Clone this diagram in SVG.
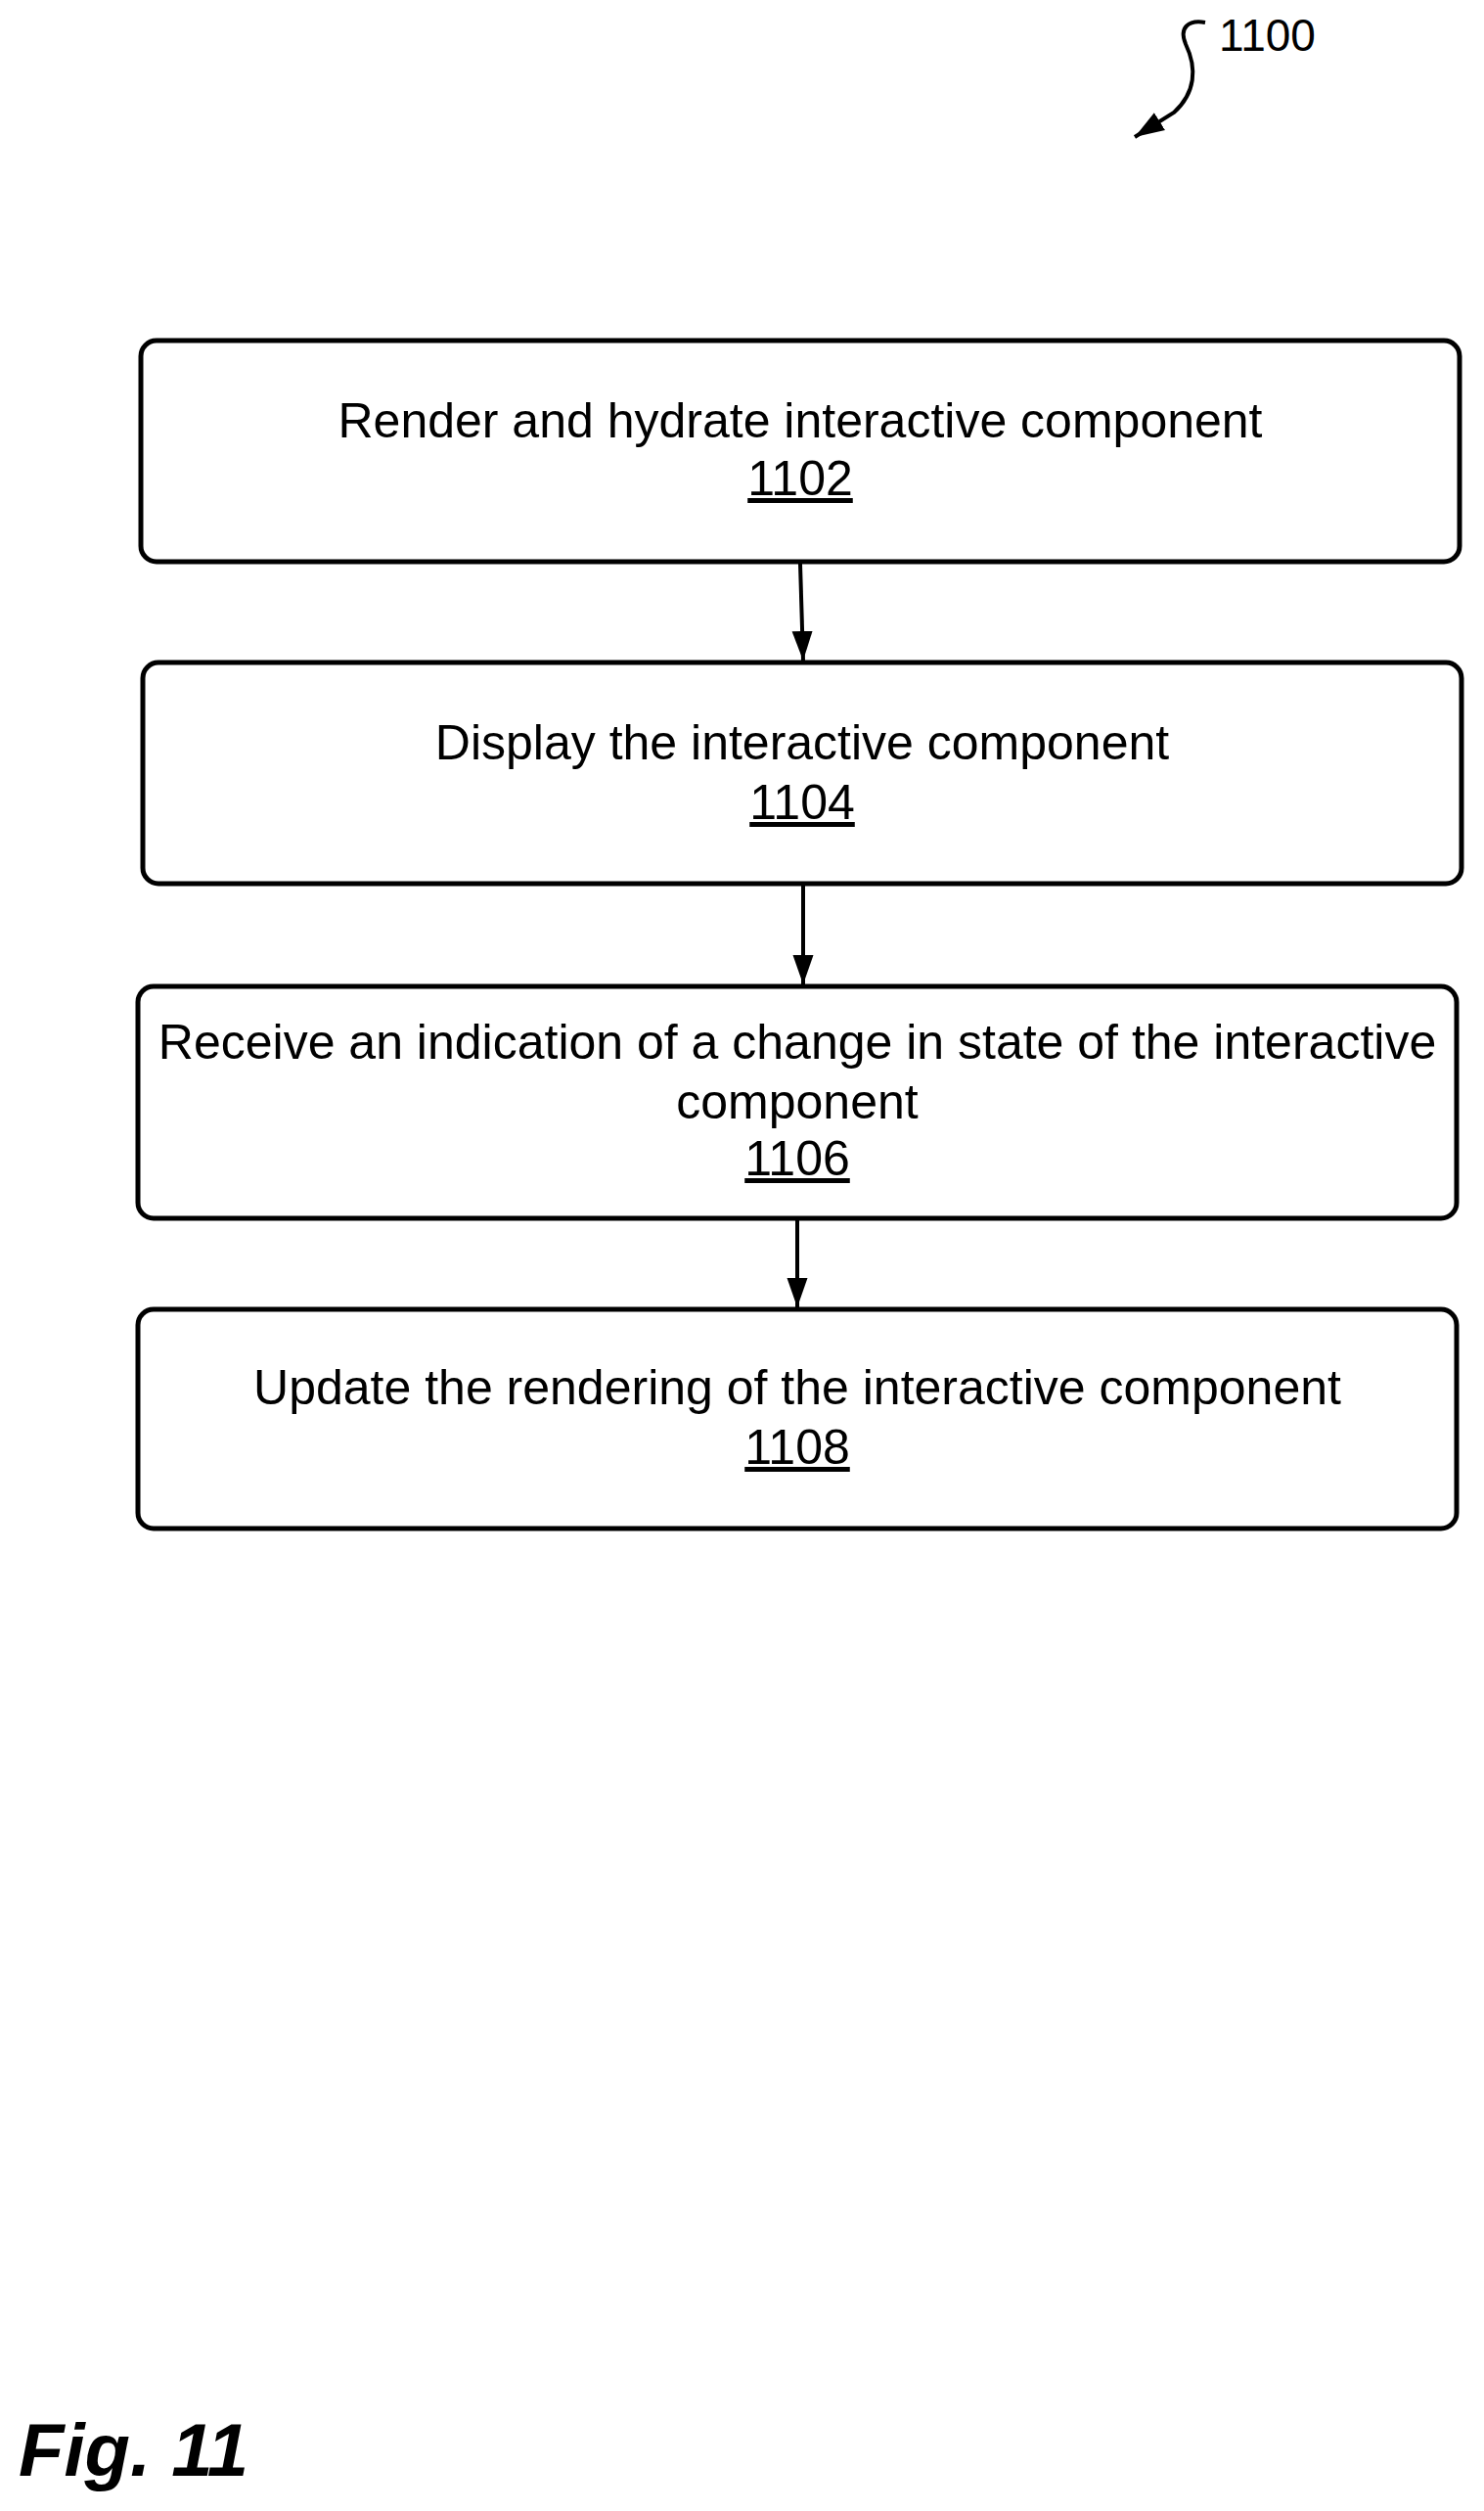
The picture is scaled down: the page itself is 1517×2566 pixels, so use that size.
<svg xmlns="http://www.w3.org/2000/svg" width="1517" height="2566" viewBox="0 0 1517 2566">
<style>
.box{fill:#fff;stroke:#000;stroke-width:5}
.t{font-family:"Liberation Sans",Arial,sans-serif;font-size:50px;text-anchor:middle;fill:#000}
.u{text-decoration:underline}
.c{stroke:#000;stroke-width:4;fill:none}
</style>
<defs>
<marker id="a" viewBox="0 0 10 10" refX="10" refY="5" markerWidth="30" markerHeight="30" markerUnits="userSpaceOnUse" orient="auto"><path d="M0,1.5 L10,5 L0,8.5 z" fill="#000"/></marker>
</defs>
<rect width="1517" height="2566" fill="#fff"/>
<g id="ref1100">
<path class="c" d="M1232,23 C1215,20 1205,28 1212,45 C1224,70 1222,95 1200,115 L1160,140" marker-end="url(#a)"/>
<text x="1246" y="52" style="font-family:'Liberation Sans',Arial,sans-serif;font-size:46px">1100</text>
</g>
<g id="connectors">
<line class="c" x1="818" y1="576" x2="821" y2="675" marker-end="url(#a)"/>
<line class="c" x1="821" y1="905" x2="821" y2="1006" marker-end="url(#a)"/>
<line class="c" x1="815" y1="1247" x2="815" y2="1336" marker-end="url(#a)"/>
</g>
<g id="n1102">
<rect class="box" x="144" y="348" width="1348" height="226" rx="16"/>
<text class="t" x="818" y="447">Render and hydrate interactive component</text>
<text class="t u" x="818" y="506">1102</text>
</g>
<g id="n1104">
<rect class="box" x="146" y="677" width="1348" height="226" rx="16"/>
<text class="t" x="820" y="776">Display the interactive component</text>
<text class="t u" x="820" y="837">1104</text>
</g>
<g id="n1106">
<rect class="box" x="141" y="1008" width="1348" height="237" rx="16"/>
<text class="t" x="815" y="1082">Receive an indication of a change in state of the interactive</text>
<text class="t" x="815" y="1143">component</text>
<text class="t u" x="815" y="1201">1106</text>
</g>
<g id="n1108">
<rect class="box" x="141" y="1338" width="1348" height="224" rx="16"/>
<text class="t" x="815" y="1435">Update the rendering of the interactive component</text>
<text class="t u" x="815" y="1496">1108</text>
</g>
<text x="19" y="2530" style="font-family:'Liberation Sans',Arial,sans-serif;font-size:76px;font-weight:bold;font-style:italic">Fig. 11</text>
</svg>
